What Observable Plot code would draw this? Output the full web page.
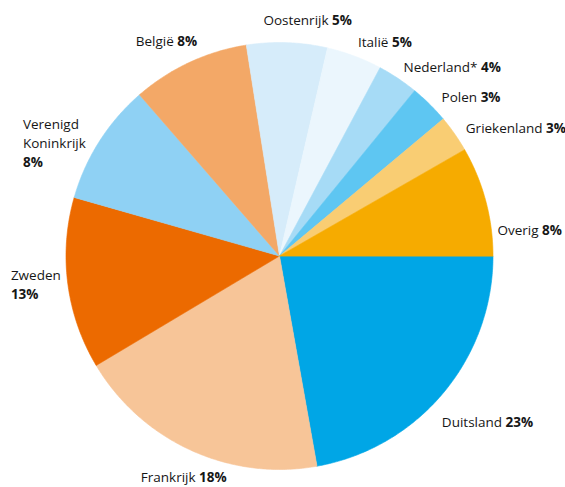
<!DOCTYPE html>
<html>
<head>
<meta charset="utf-8">
<script src="https://cdn.jsdelivr.net/npm/d3@7"></script>
<script src="https://cdn.jsdelivr.net/npm/@observablehq/plot@0.6"></script>
<style>
  html, body { margin: 0; padding: 0; background: #ffffff; }
  #chart svg { display: block; }
</style>
</head>
<body>
<div id="chart"></div>
<script>
// ---- data (clockwise from 3 o'clock) ----
const countries = ["Duitsland", "Frankrijk", "Zweden", "Verenigd Koninkrijk", "België", "Oostenrijk", "Italië", "Nederland*", "Polen", "Griekenland", "Overig"];
const shares = [22.2, 19.25, 13.0, 9.2, 8.9, 6.1, 4.2, 3.1, 3.0, 2.8, 8.3];
const pctLabels = ["23%", "18%", "13%", "8%", "8%", "5%", "5%", "4%", "3%", "3%", "8%"];
const labelNames = ["Duitsland", "Frankrijk", "Zweden", "Verenigd\nKoninkrijk", "België", "Oostenrijk", "Italië", "Nederland*", "Polen", "Griekenland", "Overig"];
const pctOnNewLine = [false, false, true, true, false, false, false, false, false, false, false];

// ---- styles ----
const colors = ["#00a6e6", "#f7c598", "#ec6a00", "#8fd1f4", "#f3a867", "#d6ecfa", "#ebf6fd", "#a6dbf6", "#5ec6f2", "#f9cd73", "#f6ab00"];
const labelAnchor = ["start", "middle", "start", "start", "end", "start", "start", "start", "start", "start", "start"];
const labelNudge = [[-9, 23], [-3, 19], [-47, 0], [-68, 8], [12, -11], [-24, -12], [0, -4], [0, -2], [5, 1], [3, 1], [2, 33]];
const LABEL_SHIFT = -2;

const W = 565, H = 487, CX = 279, CY = 255.5, R = 213.5, GAP = 10;

const pie = d3.pie().sort(null).value(d => d.share).startAngle(Math.PI / 2).endAngle(Math.PI / 2 + 2 * Math.PI);
const rows = countries.map((c, i) => ({country: c, share: shares[i], i}));
const arcs = pie(rows);

// polygon outline of each slice, in unit-radius coordinates (y pointing down)
const slicePts = [];
arcs.forEach(a => {
  const c = a.data.country;
  slicePts.push({country: c, x: 0, y: 0});
  const n = Math.max(2, Math.ceil((a.endAngle - a.startAngle) / (Math.PI / 360)));
  for (let k = 0; k <= n; k++) {
    const t = a.startAngle + (a.endAngle - a.startAngle) * k / n;
    slicePts.push({country: c, x: Math.sin(t), y: -Math.cos(t)});
  }
});

const rl = 1 + GAP / R;
const labels = arcs.map(a => {
  const i = a.data.i;
  const m = (a.startAngle + a.endAngle) / 2;
  return {
    x: rl * Math.sin(m), y: -rl * Math.cos(m),
    text: labelNames[i] + (pctOnNewLine[i] ? "\n" : " ") + pctLabels[i],
    anchor: labelAnchor[i], dx: labelNudge[i][0], dy: labelNudge[i][1] + LABEL_SHIFT
  };
});

function boldPct(index, scales, values, dims, ctx, next) {
  const g = next(index, scales, values, dims, ctx);
  const ns = "http://www.w3.org/2000/svg";
  g.querySelectorAll("text").forEach(t => {
    const spans = t.querySelectorAll("tspan");
    if (spans.length) {
      spans[spans.length - 1].setAttribute("font-weight", "bold");
    } else {
      const s = t.textContent;
      const k = s.lastIndexOf(" ");
      t.textContent = s.slice(0, k + 1);
      const ts = document.createElementNS(ns, "tspan");
      ts.setAttribute("font-weight", "bold");
      ts.textContent = s.slice(k + 1);
      t.appendChild(ts);
    }
  });
  return g;
}

const textMarks = labels.map(l => Plot.text([l], {
  x: "x", y: "y", text: "text",
  textAnchor: l.anchor, lineAnchor: "middle",
  dx: l.dx, dy: l.dy, lineHeight: 1.4,
  fill: "#161616",
  render: boldPct
}));

const chart = Plot.plot({
  width: W, height: H,
  marginTop: 0, marginRight: 0, marginBottom: 0, marginLeft: 0,
  x: {domain: [-CX / R, (W - CX) / R], range: [0, W], axis: null},
  y: {domain: [-CY / R, (H - CY) / R], range: [0, H], axis: null},
  color: {domain: countries, range: colors},
  style: {fontFamily: "'Open Sans', sans-serif", fontSize: "13.5px", background: "#ffffff"},
  marks: [
    Plot.line(slicePts, {x: "x", y: "y", z: "country", fill: "country", stroke: "country", strokeWidth: 0.6, curve: "linear-closed"}),
    ...textMarks
  ]
});
document.getElementById("chart").appendChild(chart);
</script>
</body>
</html>
